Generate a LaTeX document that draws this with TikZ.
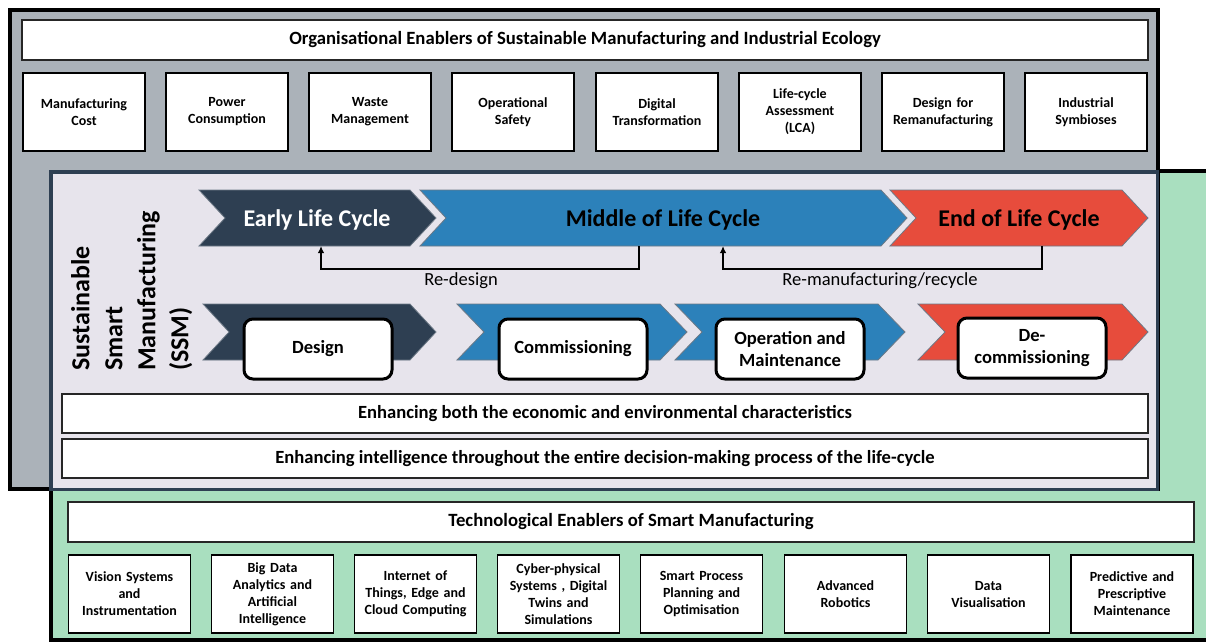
\documentclass[tikz,border=0pt]{standalone}
\usepackage{fontspec}
\setmainfont{Carlito}
\usetikzlibrary{arrows.meta}
\definecolor{grayfill}{HTML}{ABB2B9}
\definecolor{lav}{HTML}{E7E4EC}
\definecolor{slate}{HTML}{2E3F52}
\definecolor{cblue}{HTML}{2C81BA}
\definecolor{cred}{HTML}{E74C3C}
\definecolor{cgreen}{HTML}{A9DFBF}
\begin{document}
\begin{tikzpicture}[x=1pt,y=-1pt,
  titlebox/.style={draw=black!85,line width=1.4pt,fill=white,inner sep=0pt,
    font=\bfseries\fontsize{18.7}{22}\selectfont},
  enabox/.style={draw=black,line width=1.4pt,fill=white,inner sep=1pt,align=center,
    minimum width=122pt,minimum height=78pt,text width=118pt,
    font=\bfseries\fontsize{14}{17}\selectfont},
  phasebox/.style={draw=black,line width=3pt,fill=white,rounded corners=9pt,align=center,
    minimum width=148pt,minimum height=60pt,inner sep=1pt,
    font=\bfseries\fontsize{18.6}{22}\selectfont},
  chevlabel/.style={inner sep=0pt,minimum height=56pt,font=\bfseries\fontsize{24}{28}\selectfont},
  chev/.style={draw=slate!70!white,line width=0.8pt},
  fb/.style={draw=black,line width=2pt,-{Latex[length=7pt,width=6.5pt]}},
  fblabel/.style={font=\fontsize{18.5}{22}\selectfont,inner sep=0pt},
  enh/.style={draw=black!85,line width=1.4pt,fill=white,minimum width=1086pt,minimum height=39pt,
    inner sep=0pt,font=\bfseries\fontsize{18.6}{22}\selectfont}
]
\useasboundingbox (0,0) rectangle (1206,641);
% green technological panel
\draw[fill=cgreen,draw=black,line width=3.5pt] (51,171) rectangle (1230,640);
% gray organisational panel
\draw[fill=grayfill,draw=black,line width=3.5pt] (10,10) rectangle (1158,489);
% SSM panel
\draw[fill=lav,draw=slate,line width=3.5pt] (51,172) rectangle (1157.5,489.5);

% organisational enablers
\node[titlebox,minimum width=1126pt,minimum height=40pt] (orgtitle) at (585,40)
  {Organisational Enablers of Sustainable Manufacturing and Industrial Ecology};
\node[enabox] (o1) at (84,112) {Manufacturing\\Cost};
\node[enabox] (o2) at (227,112) {Power\\Consumption};
\node[enabox] (o3) at (370,112) {Waste\\Management};
\node[enabox] (o4) at (513,112) {Operational\\Safety};
\node[enabox] (o5) at (657,112) {Digital\\Transformation};
\node[enabox] (o6) at (800,112) {Life-cycle\\Assessment\\(LCA)};
\node[enabox] (o7) at (943,112) {Design for\\Remanufacturing};
\node[enabox] (o8) at (1086,112) {Industrial\\Symbioses};

% SSM title (rotated)
\node[rotate=90,anchor=north west,inner sep=0pt,align=left,
  font=\bfseries\fontsize{26}{33}\selectfont] (ssm) at (71,371)
  {Sustainable\\Smart\\Manufacturing\\(SSM)};

% top row chevrons
\fill[slate,chev] (199,190) -- (410,190) -- (436,218) -- (410,246) -- (199,246) -- (225,218) -- cycle;
\fill[cblue,chev] (420,190) -- (881,190) -- (907,218) -- (881,246) -- (420,246) -- (446,218) -- cycle;
\fill[cred,chev] (890,190) -- (1122,190) -- (1148,218) -- (1122,246) -- (890,246) -- (916,218) -- cycle;
\node[chevlabel,text=white] (early) at (317,219.5) {Early Life Cycle};
\node[chevlabel] (middle) at (663,219.5) {Middle of Life Cycle};
\node[chevlabel] (endlc) at (1019,219.5) {End of Life Cycle};

% feedback connectors
\coordinate (rdA) at (639,0);
\coordinate (rdB) at (321,0);
\coordinate (rmA) at (1042,0);
\coordinate (rmB) at (723,0);
\coordinate (fbtop) at (0,246);
\draw[fb] (fbtop -| rdA) -- ++(0,23) -| (fbtop -| rdB);
\draw[fb] (fbtop -| rmA) -- ++(0,23) -| (fbtop -| rmB);
\node[fblabel] (lblrd) at (461,281) {Re-design};
\node[fblabel] (lblrm) at (880,281) {Re-manufacturing/recycle};

% bottom row chevrons
\fill[slate,chev] (203,304) -- (410,304) -- (436,332) -- (410,360) -- (203,360) -- (229,332) -- cycle;
\fill[cblue,chev] (457,304) -- (660,304) -- (687,332) -- (660,360) -- (457,360) -- (484,332) -- cycle;
\fill[cblue,chev] (675,304) -- (878,304) -- (905,332) -- (878,360) -- (675,360) -- (702,332) -- cycle;
\fill[cred,chev] (918,304) -- (1122,304) -- (1148,332) -- (1122,360) -- (918,360) -- (945,332) -- cycle;
\node[phasebox] (design) at (318,349) {Design};
\node[phasebox] (comm) at (573,349) {Commissioning};
\node[phasebox] (oper) at (790,349) {Operation and\\Maintenance};
\node[phasebox] (decomm) at (1032,348) {De-\\commissioning};

% enhancing statements
\node[enh] (enh1) at (605,413.5) {Enhancing both the economic and environmental characteristics};
\node[enh] (enh2) at (605,458.5) {Enhancing intelligence throughout the entire decision-making process of the life-cycle};

% technological enablers
\node[titlebox,minimum width=1126pt,minimum height=40pt] (techtitle) at (631,522)
  {Technological Enablers of Smart Manufacturing};
\node[enabox] (t1) at (129.5,594) {Vision Systems\\and\\Instrumentation};
\node[enabox] (t2) at (272.5,594) {Big Data\\Analytics and\\Artificial\\Intelligence};
\node[enabox] (t3) at (415.5,594) {Internet of\\Things, Edge and\\Cloud Computing};
\node[enabox] (t4) at (558.5,594) {Cyber-physical\\Systems , Digital\\Twins and\\Simulations};
\node[enabox] (t5) at (701.5,594) {Smart Process\\Planning and\\Optimisation};
\node[enabox] (t6) at (845.5,594) {Advanced\\Robotics};
\node[enabox] (t7) at (988.5,594) {Data\\Visualisation};
\node[enabox] (t8) at (1132,594) {Predictive and\\Prescriptive\\Maintenance};
\end{tikzpicture}
\end{document}
